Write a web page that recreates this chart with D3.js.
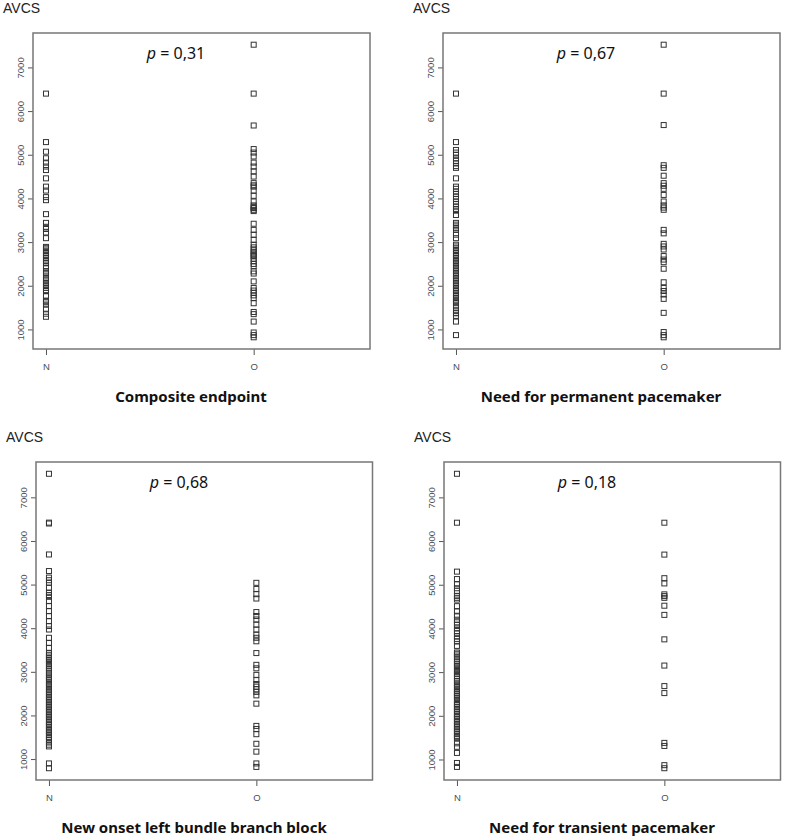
<!DOCTYPE html>
<html lang="en">
<head>
    <meta charset="UTF-8">
    <title>AVCS by outcome</title>
    <script src="https://d3js.org/d3.v7.min.js"></script>
    <style>
        body { margin: 0; background: #fff; }
        .tick-label { font-family: "Liberation Sans", Arial, sans-serif; font-size: 9.5px; fill: #4a4f5a; }
        .ylab { font-family: "Liberation Sans", Arial, sans-serif; font-size: 14px; fill: #222; }
        .pval { font-family: "Noto Sans", sans-serif; font-size: 16px; fill: #111; }
        .title { font-family: "Noto Sans", sans-serif; font-size: 15px; font-weight: bold; fill: #111; }
        .pt { fill: none; stroke: #333; stroke-width: 1; }
    </style>
</head>
<body>
    <svg id="chart" width="788" height="839"></svg>

    <script>
        // groups on the x axis
        const groups = ["N", "O"];
        const yTicks = [1000, 2000, 3000, 4000, 5000, 6000, 7000];

        const titles = [
            "Composite endpoint",
            "Need for permanent pacemaker",
            "New onset left bundle branch block",
            "Need for transient pacemaker"
        ];
        const pValues = ["0,31", "0,67", "0,68", "0,18"];

        // AVCS values, per panel and group
        const compositeN = [6400, 5290, 5070, 4920, 4820, 4730, 4650, 4460, 4270, 4180, 4030, 3960, 3640, 3440, 3350, 3300, 3220, 3090, 2890, 2860, 2830, 2790, 2750, 2700, 2680, 2640, 2600, 2560, 2520, 2450, 2400, 2330, 2300, 2260, 2180, 2140, 2100, 2060, 2030, 1990, 1950, 1900, 1880, 1760, 1660, 1640, 1620, 1570, 1460, 1360, 1290];
        const compositeO = [7520, 6400, 5670, 5130, 5050, 4960, 4820, 4730, 4620, 4500, 4350, 4300, 4270, 4180, 4060, 3930, 3840, 3800, 3780, 3740, 3710, 3420, 3280, 3170, 3050, 2940, 2880, 2830, 2780, 2740, 2700, 2680, 2620, 2560, 2500, 2450, 2330, 2280, 2100, 1950, 1890, 1840, 1780, 1720, 1600, 1400, 1350, 1180, 930, 870, 820];

        const permanentN = [6400, 5290, 5110, 5050, 5000, 4920, 4860, 4800, 4740, 4700, 4460, 4270, 4220, 4160, 4100, 4040, 3990, 3930, 3870, 3810, 3760, 3720, 3620, 3440, 3400, 3360, 3320, 3280, 3170, 3090, 2940, 2900, 2860, 2820, 2790, 2750, 2710, 2680, 2640, 2600, 2560, 2530, 2490, 2450, 2410, 2370, 2330, 2290, 2260, 2220, 2180, 2140, 2100, 2060, 2030, 1990, 1950, 1910, 1880, 1840, 1800, 1760, 1720, 1680, 1640, 1620, 1600, 1530, 1440, 1380, 1370, 1310, 1180, 870];
        const permanentO = [7520, 6400, 5680, 4760, 4700, 4520, 4350, 4290, 4220, 4080, 3930, 3840, 3790, 3740, 3280, 3200, 2960, 2900, 2830, 2680, 2600, 2540, 2390, 2080, 1950, 1880, 1800, 1700, 1380, 940, 870, 820];

        const lbbbN = [7540, 6420, 6400, 5690, 5310, 5160, 5100, 5040, 4930, 4810, 4760, 4720, 4620, 4510, 4390, 4280, 4160, 4050, 3970, 3780, 3660, 3550, 3430, 3390, 3350, 3310, 3270, 3230, 3180, 3130, 3080, 3030, 2980, 2940, 2890, 2850, 2810, 2760, 2720, 2670, 2620, 2580, 2540, 2500, 2460, 2420, 2390, 2350, 2310, 2270, 2230, 2200, 2160, 2120, 2080, 2040, 2000, 1970, 1930, 1890, 1850, 1810, 1780, 1740, 1700, 1660, 1630, 1590, 1550, 1510, 1480, 1440, 1380, 1330, 1290, 900, 790];
        const lbbbO = [5040, 4900, 4780, 4680, 4370, 4280, 4200, 4080, 3970, 3850, 3780, 3700, 3430, 3160, 3080, 2930, 2810, 2720, 2660, 2600, 2540, 2460, 2270, 1760, 1690, 1570, 1350, 1170, 900, 820];

        const transientN = [7540, 6420, 5300, 5130, 5010, 4920, 4860, 4740, 4700, 4660, 4510, 4390, 4290, 4200, 4140, 4080, 4000, 3940, 3890, 3820, 3760, 3700, 3600, 3450, 3420, 3380, 3340, 3290, 3240, 3190, 3140, 3100, 3050, 3000, 2960, 2910, 2850, 2800, 2760, 2710, 2660, 2610, 2570, 2530, 2490, 2450, 2410, 2360, 2310, 2270, 2240, 2200, 2160, 2120, 2080, 2040, 2000, 1970, 1930, 1890, 1850, 1810, 1780, 1740, 1700, 1660, 1620, 1580, 1540, 1510, 1480, 1370, 1290, 1150, 920, 830];
        const transientO = [6420, 5690, 5150, 5030, 4780, 4740, 4700, 4520, 4310, 3750, 3150, 2680, 2520, 1380, 1310, 870, 800];

        const panelData = [
            [compositeN, compositeO],
            [permanentN, permanentO],
            [lbbbN, lbbbO],
            [transientN, transientO]
        ];

        // plot boxes (left, top, right, bottom) of the four panels
        const boxes = [
            { l: 33, t: 33, r: 370, b: 349 },
            { l: 443, t: 33, r: 780, b: 349 },
            { l: 36, t: 462, r: 372.5, b: 780 },
            { l: 444, t: 462, r: 780.5, b: 780 }
        ];

        const svg = d3.select("#chart");

        panelData.forEach((cols, i) => {
            const box = boxes[i];
            const g = svg.append("g");

            const all = cols[0].concat(cols[1]);
            const lo = d3.min(all), hi = d3.max(all);
            const pad = (hi - lo) * 0.04;

            const x = d3.scaleLinear().domain([0.9375, 2.56]).range([box.l, box.r]);
            const y = d3.scaleLinear().domain([lo - pad, hi + pad]).range([box.b, box.t]);

            // y axis: ticks with rotated labels
            const yAxis = g.append("g")
                .attr("transform", "translate(" + box.l + ",0)")
                .call(d3.axisLeft(y).tickValues(yTicks).tickSize(5).tickFormat(d3.format("d")));
            yAxis.select(".domain").remove();
            yAxis.selectAll("line").attr("stroke", "#555");
            yAxis.selectAll("text")
                .attr("class", "tick-label")
                .attr("x", null).attr("dy", null)
                .attr("text-anchor", "middle")
                .attr("transform", "translate(-13,0) rotate(-90)")
                .attr("dominant-baseline", "central");

            // x axis: N / O
            const xAxis = g.append("g")
                .attr("transform", "translate(0," + box.b + ")")
                .call(d3.axisBottom(x).tickValues([1, 2]).tickSize(6).tickFormat((d, k) => groups[k]));
            xAxis.select(".domain").remove();
            xAxis.selectAll("line").attr("stroke", "#555");
            xAxis.selectAll("text").attr("class", "tick-label").attr("y", 14);

            // points
            cols.forEach((vals, k) => {
                g.selectAll(null)
                    .data(vals)
                    .enter().append("rect")
                    .attr("class", "pt")
                    .attr("x", x(k + 1) - 2.5)
                    .attr("y", d => y(d) - 2.5)
                    .attr("width", 5)
                    .attr("height", 5);
            });

            // box
            g.append("rect")
                .attr("x", box.l).attr("y", box.t)
                .attr("width", box.r - box.l).attr("height", box.b - box.t)
                .attr("fill", "none").attr("stroke", "#777").attr("stroke-width", 1.5);

            // texts
            g.append("text").attr("class", "ylab")
                .attr("x", box.l - 30).attr("y", box.t - 20)
                .text("AVCS");

            const pt = g.append("text").attr("class", "pval")
                .attr("x", box.l + 143).attr("y", box.t + 26)
                .attr("text-anchor", "middle");
            pt.append("tspan").attr("font-style", "italic").text("p");
            pt.append("tspan").text(" = " + pValues[i]);

            g.append("text").attr("class", "title")
                .attr("x", box.l + 158).attr("y", box.b + 53)
                .attr("text-anchor", "middle")
                .text(titles[i]);
        });
    </script>
</body>
</html>
